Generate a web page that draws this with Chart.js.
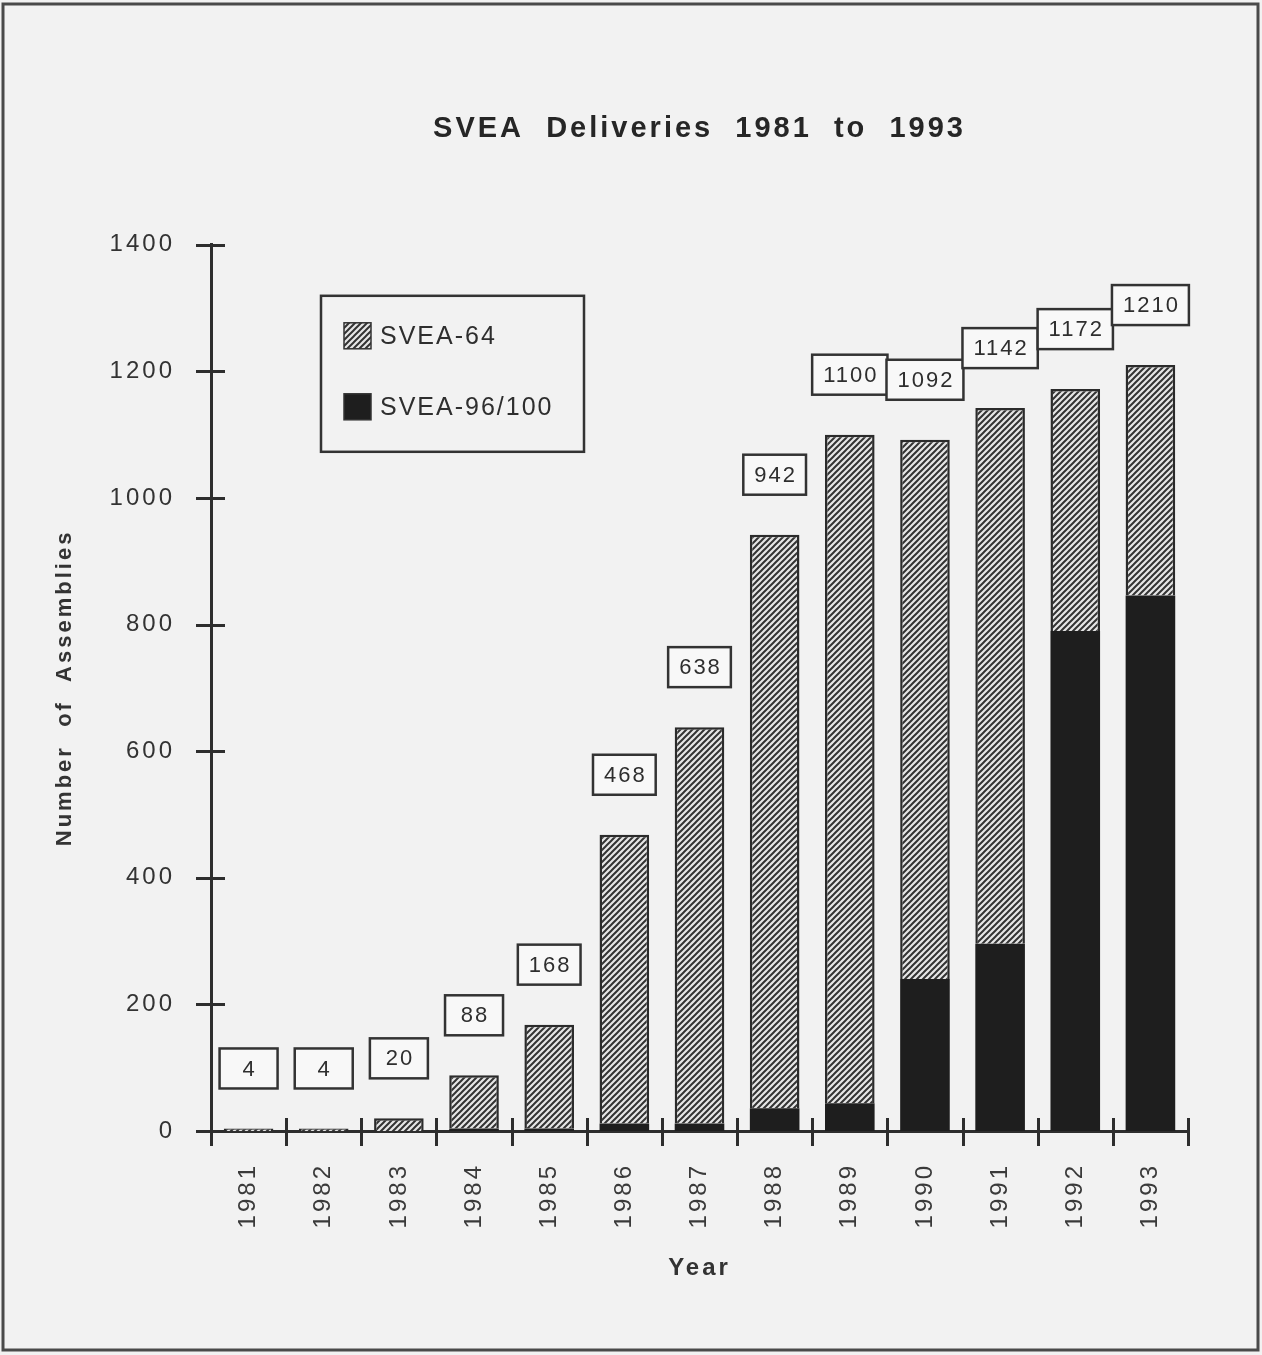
<!DOCTYPE html>
<html>
<head>
<meta charset="utf-8">
<script src="https://cdn.jsdelivr.net/npm/chart.js@4.4.1/dist/chart.umd.min.js"></script>
<style>
html, body { margin: 0; padding: 0; background: #f2f2f2; }
#wrap { width: 1262px; height: 1355px; }
</style>
</head>
<body>
<div id="wrap"><canvas id="svea-deliveries" width="1262" height="1355"></canvas></div>
<script>
/***** Data *****/
const YEARS = ['1981', '1982', '1983', '1984', '1985', '1986', '1987', '1988', '1989', '1990', '1991', '1992', '1993'];
const SVEA_96_100 = [0, 0, 0, 4, 4, 12, 12, 36, 44, 240, 296, 790, 846];
const SVEA_64 = [4, 4, 20, 84, 164, 456, 626, 906, 1056, 852, 846, 382, 364];
const TOTAL_LABELS = [4, 4, 20, 88, 168, 468, 638, 942, 1100, 1092, 1142, 1172, 1210];
const Y_TICKS = [0, 200, 400, 600, 800, 1000, 1200, 1400];

const INK = '#2e2e2e';
const FONT = "'Liberation Sans', Arial, Helvetica, sans-serif";

Chart.defaults.font.family = FONT;
Chart.defaults.color = INK;

function makeHatch() { //diagonal "////" fill
    let c = document.createElement('canvas');
    c.width = 6; c.height = 6;
    let g = c.getContext('2d');
    g.fillStyle = '#e6e6e6';
    g.fillRect(0, 0, 6, 6);
    g.strokeStyle = '#333';
    g.lineWidth = 2;
    g.beginPath();
    g.moveTo(-1, 7); g.lineTo(7, -1);
    g.moveTo(-1, 1); g.lineTo(1, -1);
    g.moveTo(5, 7); g.lineTo(7, 5);
    g.stroke();
    return g.createPattern(c, 'repeat');
}
const HATCH = makeHatch();

//Page background, outer frame and spaced lettering
const framePlugin = {
    id: 'frame',
    beforeDraw(chart) {
        let ctx = chart.ctx;
        ctx.save();
        ctx.fillStyle = '#f2f2f2';
        ctx.fillRect(0, 0, chart.width, chart.height);
        ctx.strokeStyle = '#4a4a4a';
        ctx.lineWidth = 3;
        ctx.strokeRect(3, 4, 1255, 1346);
        ctx.restore();
        ctx.letterSpacing = '3px';
    }
};

//Tick marks that cross both axes
const crossTicksPlugin = {
    id: 'crossTicks',
    afterDraw(chart) {
        let ctx = chart.ctx;
        let xs = chart.scales.x, ys = chart.scales.y;
        let area = chart.chartArea;
        ctx.save();
        ctx.strokeStyle = INK;
        ctx.lineWidth = 3;
        ctx.beginPath();
        Y_TICKS.forEach(function (v) {
            let y = Math.round(ys.getPixelForValue(v)) + 0.5;
            ctx.moveTo(area.left - 15, y);
            ctx.lineTo(area.left + 14, y);
        });
        let step = xs.width / YEARS.length;
        for (let i = 0; i <= YEARS.length; i++) {
            let x = Math.round(xs.left + i * step) + 0.5;
            ctx.moveTo(x, area.bottom - 13);
            ctx.lineTo(x, area.bottom + 15);
        }
        ctx.stroke();
        ctx.restore();
    }
};

//Boxed totals above each bar
const totalBoxesPlugin = {
    id: 'totalBoxes',
    afterDatasetsDraw(chart) {
        let ctx = chart.ctx;
        let meta = chart.getDatasetMeta(1);
        ctx.save();
        ctx.font = '22px ' + FONT;
        ctx.letterSpacing = '2px';
        ctx.textAlign = 'center';
        ctx.textBaseline = 'middle';
        meta.data.forEach(function (bar, i) {
            let txt = String(TOTAL_LABELS[i]);
            let w = Math.max(ctx.measureText(txt).width + 20, 58);
            let h = 40;
            let bottom = bar.y - 40;
            ctx.fillStyle = '#f8f8f8';
            ctx.fillRect(bar.x - w / 2, bottom - h, w, h);
            ctx.strokeStyle = '#333';
            ctx.lineWidth = 2.5;
            ctx.strokeRect(bar.x - w / 2, bottom - h, w, h);
            ctx.fillStyle = INK;
            ctx.fillText(txt, bar.x + 1, bottom - h / 2 + 1);
        });
        ctx.restore();
    }
};

//Legend box inside the plot
const legendBoxPlugin = {
    id: 'legendBox',
    afterDatasetsDraw(chart) {
        let ctx = chart.ctx;
        let area = chart.chartArea;
        let bx = area.left + 110, by = area.top + 51;
        let items = [chart.data.datasets[1], chart.data.datasets[0]];
        ctx.save();
        ctx.fillStyle = '#f2f2f2';
        ctx.fillRect(bx, by, 263, 156);
        ctx.strokeStyle = '#333';
        ctx.lineWidth = 2.5;
        ctx.strokeRect(bx, by, 263, 156);
        ctx.font = '25px ' + FONT;
        ctx.letterSpacing = '2px';
        ctx.textBaseline = 'middle';
        items.forEach(function (ds, k) {
            let y = by + 40 + k * 71;
            ctx.fillStyle = ds.backgroundColor;
            ctx.fillRect(bx + 23, y - 13, 27, 26);
            ctx.strokeStyle = '#333';
            ctx.lineWidth = 1.5;
            ctx.strokeRect(bx + 23, y - 13, 27, 26);
            ctx.fillStyle = INK;
            ctx.fillText(ds.label, bx + 59, y + 1);
        });
        ctx.restore();
    }
};

new Chart(document.getElementById('svea-deliveries'), {
    type: 'bar',
    data: {
        labels: YEARS,
        datasets: [{
            label: 'SVEA-96/100',
            data: SVEA_96_100,
            backgroundColor: '#1e1e1e',
            borderWidth: 0,
            barPercentage: 0.66,
            categoryPercentage: 1
        }, {
            label: 'SVEA-64',
            data: SVEA_64,
            backgroundColor: HATCH,
            borderColor: '#2b2b2b',
            borderWidth: 2.5,
            barPercentage: 0.66,
            categoryPercentage: 1
        }]
    },
    options: {
        responsive: false,
        devicePixelRatio: 1,
        animation: false,
        layout: {padding: {top: 0, left: 0, right: 74, bottom: 0}},
        plugins: {
            legend: {display: false},
            tooltip: {enabled: false},
            title: {
                display: true,
                fullSize: false,
                text: 'SVEA  Deliveries  1981  to  1993',
                color: '#262626',
                font: {size: 29, weight: 'bold'},
                padding: {top: 112, bottom: 98}
            }
        },
        scales: {
            x: {
                stacked: true,
                offset: true,
                grid: {display: false, drawTicks: false},
                border: {display: true, color: INK, width: 3},
                ticks: {minRotation: 90, maxRotation: 90, autoSkip: false, padding: 32, font: {size: 24}, color: '#3a3a3a'},
                title: {display: true, text: 'Year', color: '#333', font: {size: 24, weight: 'bold'}, padding: {top: 0, bottom: 72}},
                afterFit: function (s) { s.height = 224; }
            },
            y: {
                stacked: true,
                min: 0,
                max: 1400,
                grid: {display: false, drawTicks: false},
                border: {display: true, color: INK, width: 3},
                ticks: {
                    stepSize: 200,
                    padding: 36,
                    font: {size: 24},
                    color: '#333',
                    callback: function (v) { return String(v); }
                },
                title: {display: true, text: 'Number  of  Assemblies', color: '#333', font: {size: 22, weight: 'bold'}, padding: {top: 52, bottom: 0}},
                afterFit: function (s) { s.width = 211; }
            }
        }
    },
    plugins: [framePlugin, crossTicksPlugin, totalBoxesPlugin, legendBoxPlugin]
});
</script>
</body>
</html>
